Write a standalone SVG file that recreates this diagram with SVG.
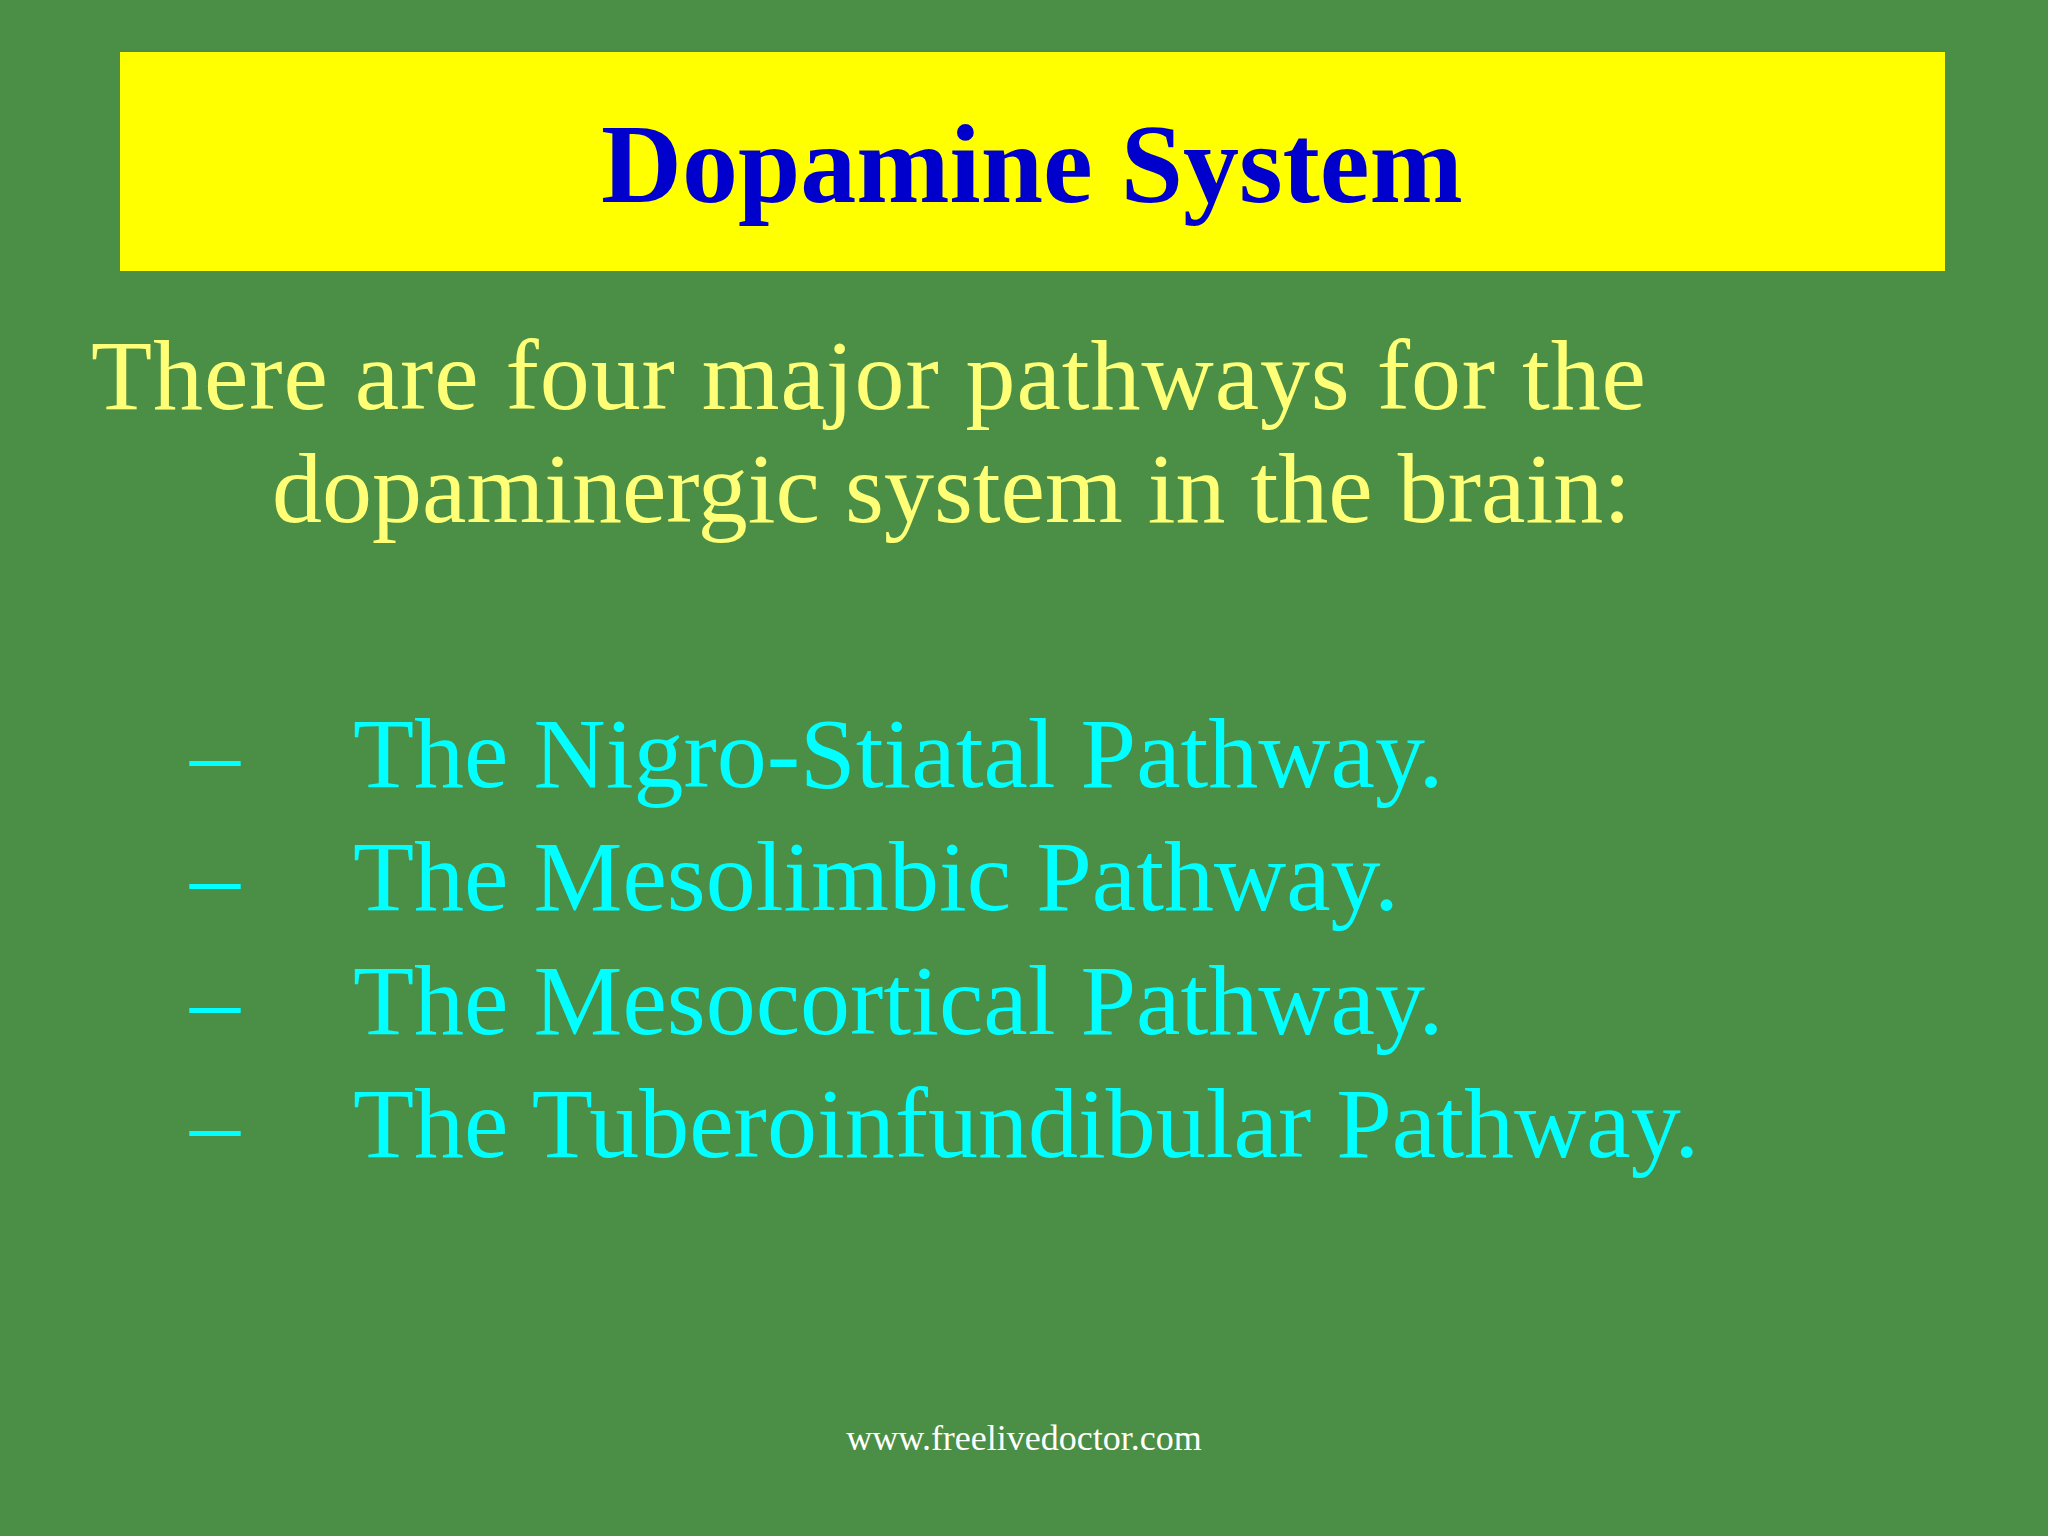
<svg xmlns="http://www.w3.org/2000/svg" width="2048" height="1536" viewBox="0 0 2048 1536">
<style>
.s{font-family:"Liberation Serif","Times New Roman",serif}
.b{font-size:100px;fill:#00FFFF}
</style>
<rect width="2048" height="1536" fill="#4A8F45"/>
<g id="title">
<rect x="120" y="52" width="1825" height="219" fill="#FFFF00"/>
<text class="s" x="1032" y="202" text-anchor="middle" font-size="112" font-weight="bold" fill="#0000CC">Dopamine System</text>
</g>
<g id="intro" class="s" font-size="100" fill="#FFFF77">
<text x="91" y="409" textLength="1555">There are four major pathways for the</text>
<text x="272" y="522">dopaminergic system in the brain:</text>
</g>
<g id="list" class="s b">
<text x="190" y="787">–</text><text x="353" y="787">The Nigro-Stiatal Pathway.</text>
<text x="190" y="910">–</text><text x="353" y="910">The Mesolimbic Pathway.</text>
<text x="190" y="1034">–</text><text x="353" y="1034">The Mesocortical Pathway.</text>
<text x="190" y="1157">–</text><text x="353" y="1157">The Tuberoinfundibular Pathway.</text>
</g>
<text id="footer" class="s" x="1024" y="1450" text-anchor="middle" font-size="36" fill="#FFFFFF">www.freelivedoctor.com</text>
</svg>
